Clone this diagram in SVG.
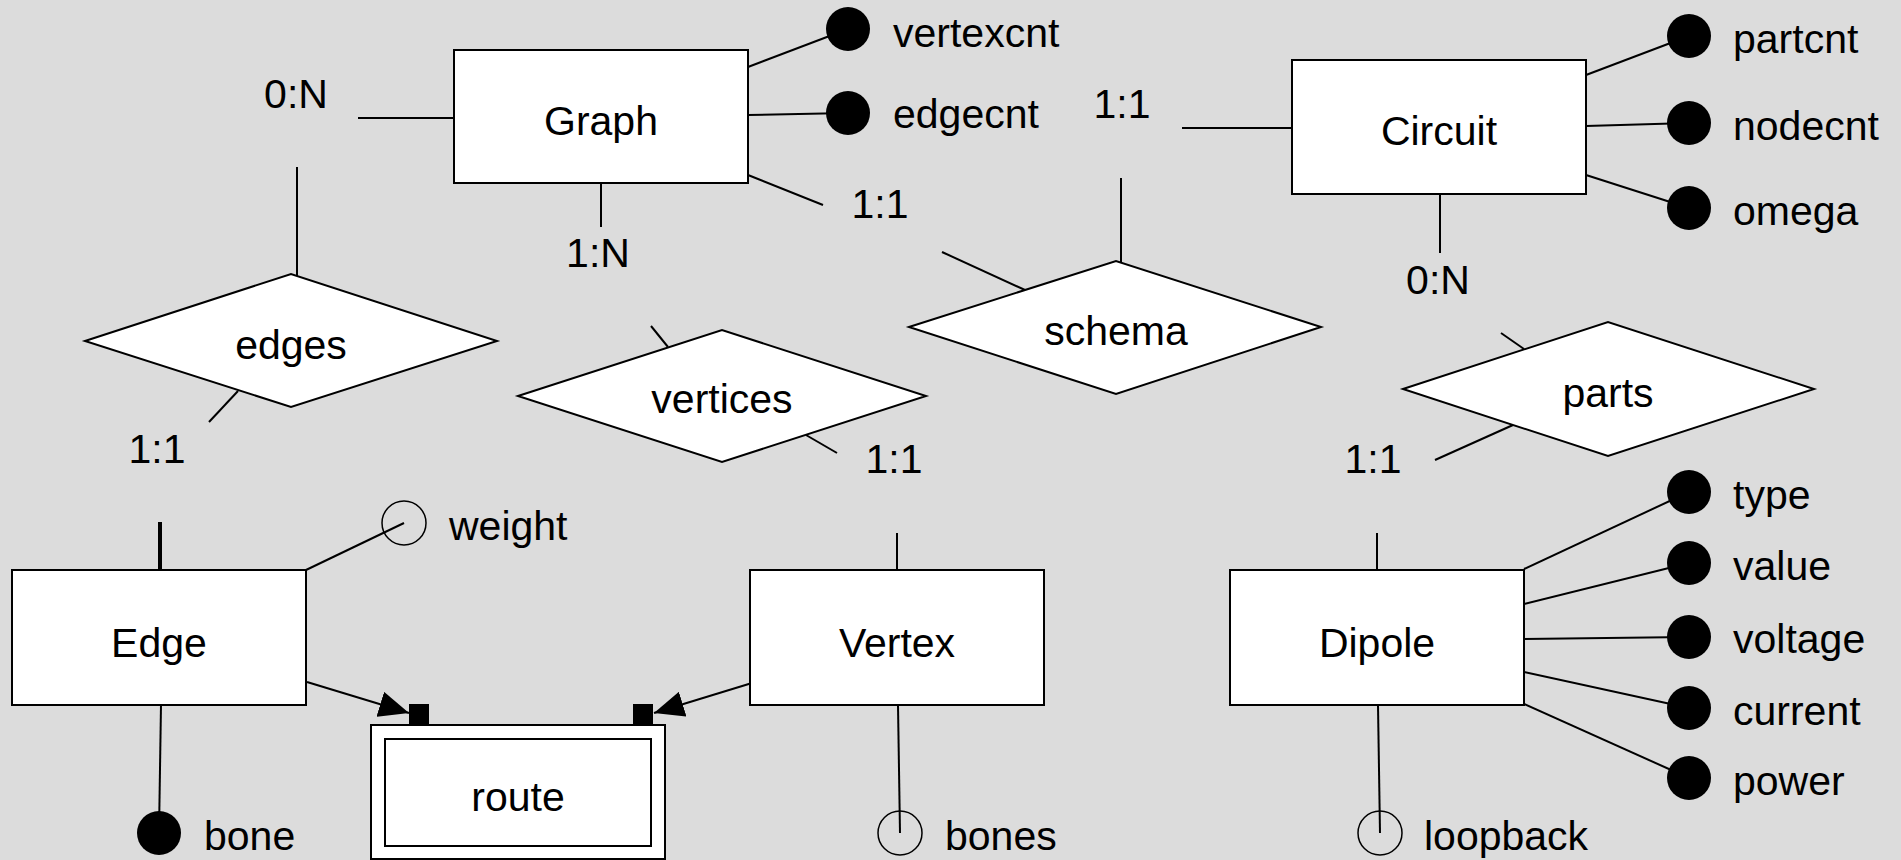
<svg xmlns="http://www.w3.org/2000/svg" width="1901" height="860" viewBox="0 0 1901 860">
<defs>
<style>
text{font-family:"Liberation Sans",Arial,Helvetica,sans-serif;font-size:41px;fill:#000}
.c{text-anchor:middle}
.ent{fill:#fff;stroke:#000;stroke-width:2}
.rel{fill:#fff;stroke:#000;stroke-width:2}
.ln{stroke:#000;stroke-width:2;fill:none}
.key{fill:#000}
.opt{fill:none;stroke:#000;stroke-width:1.5}
</style>
<marker id="arr" markerUnits="userSpaceOnUse" markerWidth="30" markerHeight="26" viewBox="0 0 30 26" refX="30" refY="13" orient="auto">
<path d="M0,0 L30,13 L0,26 z" fill="#000"/>
</marker>
</defs>
<rect width="1901" height="860" fill="#dcdcdc"/>
<g id="connectors">
<line class="ln" x1="358" y1="118" x2="454" y2="118"/>
<line class="ln" x1="297" y1="167" x2="297" y2="276"/>
<line class="ln" x1="601" y1="183" x2="601" y2="227"/>
<line class="ln" x1="651" y1="326" x2="668" y2="347"/>
<line class="ln" x1="748" y1="175" x2="823" y2="205"/>
<line class="ln" x1="942" y1="252" x2="1025" y2="290"/>
<line class="ln" x1="1182" y1="128" x2="1292" y2="128"/>
<line class="ln" x1="1121" y1="178" x2="1121" y2="262"/>
<line class="ln" x1="1440" y1="194" x2="1440" y2="253"/>
<line class="ln" x1="1501" y1="333" x2="1524" y2="349"/>
<line class="ln" x1="238" y1="391" x2="209" y2="422"/>
<line class="ln" x1="160" y1="522" x2="160" y2="570" style="stroke-width:4"/>
<line class="ln" x1="806" y1="435" x2="837" y2="453"/>
<line class="ln" x1="897" y1="533" x2="897" y2="570"/>
<line class="ln" x1="1513" y1="425" x2="1435" y2="460"/>
<line class="ln" x1="1377" y1="533" x2="1377" y2="570"/>
<line class="ln" x1="307" y1="682" x2="409" y2="713" marker-end="url(#arr)"/>
<line class="ln" x1="752" y1="683" x2="654" y2="713" marker-end="url(#arr)"/>
<line class="ln" x1="161" y1="705" x2="159" y2="833"/>
<line class="ln" x1="898" y1="705" x2="900" y2="833"/>
<line class="ln" x1="1378" y1="705" x2="1380" y2="833"/>
<line class="ln" x1="306" y1="570" x2="404" y2="523"/>
<line class="ln" x1="748" y1="67" x2="848" y2="29"/>
<line class="ln" x1="748" y1="115" x2="848" y2="113"/>
<line class="ln" x1="1586" y1="75" x2="1689" y2="36"/>
<line class="ln" x1="1586" y1="126" x2="1689" y2="123"/>
<line class="ln" x1="1586" y1="175" x2="1689" y2="208"/>
<line class="ln" x1="1524" y1="569" x2="1689" y2="492"/>
<line class="ln" x1="1524" y1="604" x2="1689" y2="563"/>
<line class="ln" x1="1524" y1="639" x2="1689" y2="637"/>
<line class="ln" x1="1524" y1="672" x2="1689" y2="708"/>
<line class="ln" x1="1524" y1="704" x2="1689" y2="778"/>
<rect x="409" y="704" width="20" height="20" fill="#000"/>
<rect x="633" y="704" width="20" height="20" fill="#000"/>
</g>
<g id="card-labels">
<text class="c" x="296" y="108">0:N</text>
<text class="c" x="598" y="267">1:N</text>
<text class="c" x="880" y="218">1:1</text>
<text class="c" x="1122" y="118">1:1</text>
<text class="c" x="1438" y="294">0:N</text>
<text class="c" x="157" y="463">1:1</text>
<text class="c" x="894" y="473">1:1</text>
<text class="c" x="1373" y="473">1:1</text>
</g>
<g id="Graph"><rect class="ent" x="454" y="50" width="294" height="133"/><text class="c" x="601" y="135">Graph</text></g>
<g id="Circuit"><rect class="ent" x="1292" y="60" width="294" height="134"/><text class="c" x="1439" y="145">Circuit</text></g>
<g id="Edge"><rect class="ent" x="12" y="570" width="294" height="135"/><text class="c" x="159" y="657">Edge</text></g>
<g id="Vertex"><rect class="ent" x="750" y="570" width="294" height="135"/><text class="c" x="897" y="657">Vertex</text></g>
<g id="Dipole"><rect class="ent" x="1230" y="570" width="294" height="135"/><text class="c" x="1377" y="657">Dipole</text></g>
<g id="route"><rect class="ent" x="371" y="725" width="294" height="134"/><rect class="ent" x="385" y="739" width="266" height="107"/><text class="c" x="518" y="811">route</text></g>
<g id="edges"><polygon class="rel" points="85,341 291,274 497,341 291,407"/><text class="c" x="291" y="359">edges</text></g>
<g id="vertices"><polygon class="rel" points="518,396 722,330 926,396 722,462"/><text class="c" x="722" y="413">vertices</text></g>
<g id="schema"><polygon class="rel" points="909,327 1116,261 1321,327 1116,394"/><text class="c" x="1116" y="345">schema</text></g>
<g id="parts"><polygon class="rel" points="1403,389 1608,322 1814,389 1608,456"/><text class="c" x="1608" y="407">parts</text></g>
<g id="attr-vertexcnt"><circle class="key" cx="848" cy="29" r="22"/><text x="893" y="47">vertexcnt</text></g>
<g id="attr-edgecnt"><circle class="key" cx="848" cy="113" r="22"/><text x="893" y="128">edgecnt</text></g>
<g id="attr-partcnt"><circle class="key" cx="1689" cy="36" r="22"/><text x="1733" y="53">partcnt</text></g>
<g id="attr-nodecnt"><circle class="key" cx="1689" cy="123" r="22"/><text x="1733" y="140">nodecnt</text></g>
<g id="attr-omega"><circle class="key" cx="1689" cy="208" r="22"/><text x="1733" y="225">omega</text></g>
<g id="attr-type"><circle class="key" cx="1689" cy="492" r="22"/><text x="1733" y="509">type</text></g>
<g id="attr-value"><circle class="key" cx="1689" cy="563" r="22"/><text x="1733" y="580">value</text></g>
<g id="attr-voltage"><circle class="key" cx="1689" cy="637" r="22"/><text x="1733" y="653">voltage</text></g>
<g id="attr-current"><circle class="key" cx="1689" cy="708" r="22"/><text x="1733" y="725">current</text></g>
<g id="attr-power"><circle class="key" cx="1689" cy="778" r="22"/><text x="1733" y="795">power</text></g>
<g id="attr-weight"><circle class="opt" cx="404" cy="523" r="22"/><text x="449" y="540">weight</text></g>
<g id="attr-bone"><circle class="key" cx="159" cy="833" r="22"/><text x="204" y="850">bone</text></g>
<g id="attr-bones"><circle class="opt" cx="900" cy="833" r="22"/><text x="945" y="850">bones</text></g>
<g id="attr-loopback"><circle class="opt" cx="1380" cy="833" r="22"/><text x="1424" y="850">loopback</text></g>
</svg>
